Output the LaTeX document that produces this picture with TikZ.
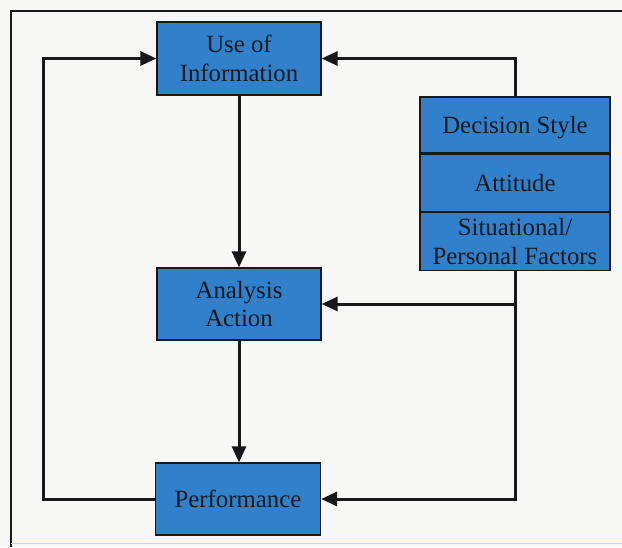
\documentclass[tikz,border=0pt]{standalone}
\usepackage{fontspec}
\setmainfont{Liberation Serif}
\usetikzlibrary{arrows.meta}
\definecolor{boxblue}{RGB}{48,128,204}
\definecolor{paper}{RGB}{247,247,245}
\definecolor{ink}{RGB}{24,24,26}
\begin{document}
\begin{tikzpicture}[x=1pt,y=-1pt,
  box/.style={draw=ink, line width=1.3pt, fill=boxblue, text=ink,
    align=center, inner sep=0pt, font=\fontsize{24.8}{28.5}\selectfont},
  flow/.style={draw=ink, line width=3pt,
    -{Triangle[length=16pt,width=14pt]}}]
  % paper and frame
  \fill[paper] (0,0) rectangle (622,547);
  \useasboundingbox (0,0) rectangle (622,547);
  \draw[ink, line width=1.3pt] (11,547) -- (11,11) -- (622,11);
  \draw[orange!40, line width=0.8pt] (11,543) -- (622,543);

  % main chain
  \node[box, minimum width=164pt, minimum height=73pt] (use) at (239,58.5) {Use of\\Information};
  \node[box, minimum width=164pt, minimum height=72pt] (ana) at (239,304) {Analysis\\Action};
  \node[box, minimum width=165pt, minimum height=72pt] (perf) at (238,499) {Performance};

  % stacked influences
  \node[box, minimum width=190pt, minimum height=56pt, text height=22pt, text depth=5.5pt] (dec) at (515,125) {Decision Style};
  \node[box, minimum width=190pt, minimum height=57pt, anchor=north] (att) at (dec.south) {Attitude};
  \node[box, minimum width=190pt, minimum height=58pt, anchor=north] (sit) at (att.south) {Situational/\\Personal Factors};

  % connectors
  \draw[flow] (use.south) -- (ana.north);
  \draw[flow] (ana.south) -- (ana.south |- perf.north);
  \draw[flow] (dec.north) |- (use.east);
  \draw[flow] (sit.south) |- (perf.east);
  \draw[flow] (sit.south |- ana.east) -- (ana.east);
  \coordinate (back) at (43,0);
  \draw[flow] (perf.west) -| (back |- ana.east) |- (use.west);
\end{tikzpicture}
\end{document}
